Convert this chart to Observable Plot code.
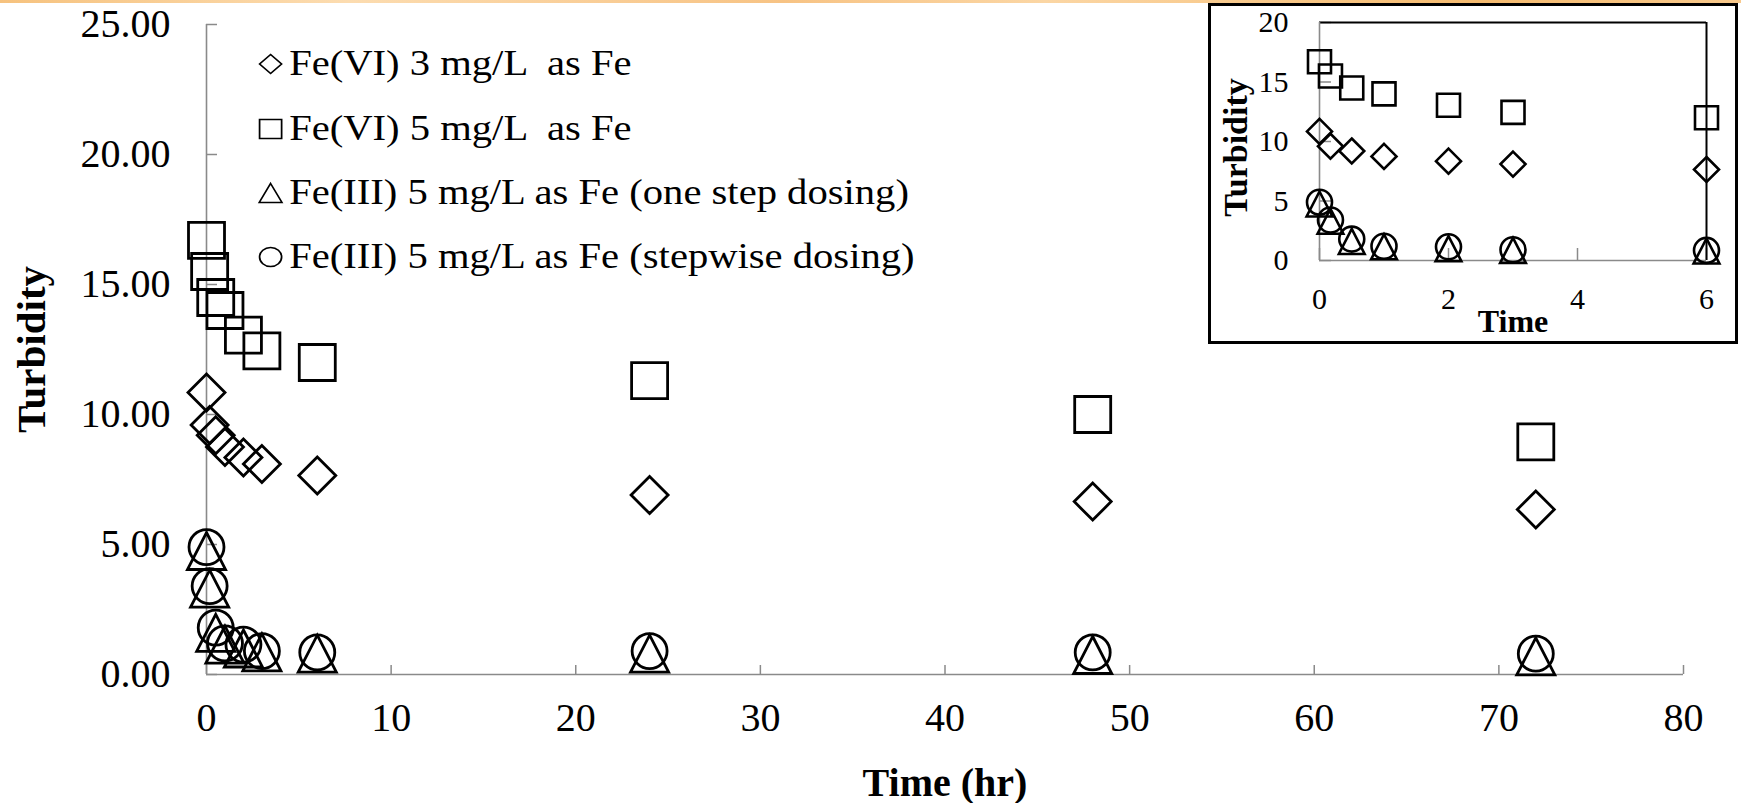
<!DOCTYPE html>
<html><head><meta charset="utf-8">
<script src="https://cdn.jsdelivr.net/npm/d3@7"></script>
<script src="https://cdn.jsdelivr.net/npm/@observablehq/plot@0.6"></script>
<style>
body{margin:0;background:#fff;}
#wrap{position:relative;width:1741px;height:803px;overflow:hidden;font-family:"Liberation Serif","Times New Roman",serif;background:#fff;}
#main{position:absolute;left:0;top:0;}
#strip{position:absolute;left:0;top:0;width:1741px;height:3px;z-index:5;
 background:linear-gradient(90deg,#f6c27e,#fcdcb0 20%,#f7c384 45%,#fbd6a4 60%,#f5bb70 85%,#f8c98c);}
#inset{position:absolute;left:1208px;top:3px;width:530px;height:341px;border:3px solid #000;box-sizing:border-box;background:#fff;}
#legend{position:absolute;left:259px;top:32px;transform:scaleX(1.16);transform-origin:0 0;color:#000;font-family:"Liberation Serif","Times New Roman",serif;}
.row{display:flex;align-items:center;height:64.4px;font-size:35px;white-space:pre;}
.row svg{margin-right:6px;overflow:visible;}
</style></head>
<body><div id="wrap"><div id="main"></div><div id="legend"></div><div id="inset"></div><div id="strip"></div></div>
<script>
// ---- data ----
const time = [0, 0.17, 0.5, 1, 2, 3, 6, 24, 48, 72];
const fe6_3mg = [10.85, 9.6, 9.2, 8.75, 8.35, 8.1, 7.65, 6.9, 6.65, 6.35];
const fe6_5mg = [16.7, 15.5, 14.5, 14.0, 13.05, 12.45, 12.0, 11.3, 10.0, 8.95];
const fe3_oneStep = [4.75, 3.3, 1.6, 1.15, 1.0, 0.85, 0.8, 0.8, 0.75, 0.7];
const fe3_stepwise = [4.9, 3.4, 1.8, 1.2, 1.15, 0.9, 0.85, 0.9, 0.85, 0.8];
const seriesNames = ["Fe(VI) 3 mg/L  as Fe", "Fe(VI) 5 mg/L  as Fe",
  "Fe(III) 5 mg/L as Fe (one step dosing)", "Fe(III) 5 mg/L as Fe (stepwise dosing)"];
const seriesValues = [fe6_3mg, fe6_5mg, fe3_oneStep, fe3_stepwise];
const seriesShapes = ["diamond", "square", "triangle", "circle"];
const mainXTicks = [0, 10, 20, 30, 40, 50, 60, 70, 80];
const mainYTicks = [0, 5, 10, 15, 20, 25];
const insetXTicks = [0, 2, 4, 6];
const insetYTicks = [0, 5, 10, 15, 20];

// ---- marker shapes (Excel-like) ----
const R = s => Math.sqrt(s / Math.PI);
const shapes = {
  diamond: {draw(c, s) {const r = R(s); c.moveTo(0, -r); c.lineTo(r, 0); c.lineTo(0, r); c.lineTo(-r, 0); c.closePath();}},
  square: {draw(c, s) {const r = R(s); c.moveTo(-r, -r); c.lineTo(r, -r); c.lineTo(r, r); c.lineTo(-r, r); c.closePath();}},
  triangle: {draw(c, s) {const r = R(s); c.moveTo(0, -r); c.lineTo(r * 1.03, r); c.lineTo(-r * 1.03, r); c.closePath();}},
  circle: {draw(c, s) {const r = R(s); c.moveTo(r, 0); c.arc(0, 0, r, 0, 2 * Math.PI);}}
};

const rows = [];
seriesNames.forEach((name, k) => time.forEach((t, i) => rows.push({series: name, shape: seriesShapes[k], t, v: seriesValues[k][i]})));

const font = '"Liberation Serif","Times New Roman",serif';
const grey = "#8a8a8a";

// ---- main chart ----
const W = 1741, H = 803, mL = 206, mR = 58, mT = 24, mB = 129;
const pW = W - mL - mR, pH = H - mT - mB;
const mainR = {diamond: 18.5, square: 18, triangle: 18.5, circle: 17.5};
const main = Plot.plot({
  width: W, height: H, marginLeft: mL, marginRight: mR, marginTop: mT, marginBottom: mB,
  style: {fontFamily: font, background: "transparent", overflow: "visible", color: "#000"},
  x: {domain: [0, 80]}, y: {domain: [0, 25]},
  marks: [
    Plot.tickY(mainYTicks, {y: d => d, stroke: grey, strokeWidth: 1.5, insetRight: pW - 11}),
    Plot.tickX(mainXTicks, {x: d => d, stroke: grey, strokeWidth: 1.5, insetTop: pH - 9}),
    Plot.ruleX([0], {stroke: grey, strokeWidth: 1.6}),
    Plot.ruleY([0], {stroke: grey, strokeWidth: 1.6}),
    Plot.axisY(mainYTicks, {tickSize: 0, tickPadding: 36, tickFormat: d3.format(".2f"), fontSize: 40, label: null, fill: "#000"}),
    Plot.axisX(mainXTicks, {tickSize: 0, tickPadding: 28, fontSize: 40, label: null, fill: "#000"}),
    Plot.text(["Turbidity"], {frameAnchor: "left", textAnchor: "middle", dx: -175, rotate: -90, fontSize: 41, fontWeight: "bold", fill: "#000"}),
    Plot.text(["Time (hr)"], {frameAnchor: "bottom", textAnchor: "middle", dy: 121, fontSize: 40, fontWeight: "bold", fill: "#000"}),
    ...seriesShapes.map(sh => Plot.dot(rows.filter(d => d.shape === sh), {
      x: "t", y: "v", symbol: shapes[sh], r: mainR[sh], stroke: "#000", strokeWidth: 2.8, fill: "none"}))
  ]
});
document.getElementById("main").append(main);

// ---- legend ----
const legend = document.getElementById("legend");
seriesNames.forEach((name, k) => {
  const row = document.createElement("div");
  row.className = "row";
  const svg = d3.create("svg").attr("width", 20).attr("height", 22).attr("viewBox", "-10 -11 20 22");
  svg.append("path").attr("d", d3.symbol(shapes[seriesShapes[k]], Math.PI * 9.5 * 9.5)())
    .attr("fill", "none").attr("stroke", "#000").attr("stroke-width", 1.5);
  row.append(svg.node());
  const span = document.createElement("span");
  span.textContent = name;
  row.append(span);
  legend.append(row);
});

// ---- inset ----
const iW = 524, iH = 335, iL = 108, iR = 29, iT = 16, iB = 81;
const ipW = iW - iL - iR, ipH = iH - iT - iB;
const insetR = {diamond: 12.5, square: 11.5, triangle: 12.5, circle: 12.5};
const insetRows = rows.filter(d => d.t <= 6);
const inset = Plot.plot({
  width: iW, height: iH, marginLeft: iL, marginRight: iR, marginTop: iT, marginBottom: iB,
  style: {fontFamily: font, background: "transparent", overflow: "visible", color: "#000"},
  x: {domain: [0, 6]}, y: {domain: [0, 20]},
  marks: [
    Plot.tickY(insetYTicks, {y: d => d, stroke: grey, strokeWidth: 1.5, insetRight: ipW - 12}),
    Plot.tickX(insetXTicks, {x: d => d, stroke: grey, strokeWidth: 1.5, insetTop: ipH - 12}),
    Plot.ruleY([20], {stroke: "#000", strokeWidth: 2}),
    Plot.ruleX([6], {stroke: "#000", strokeWidth: 2}),
    Plot.ruleX([0], {stroke: grey, strokeWidth: 1.6}),
    Plot.ruleY([0], {stroke: grey, strokeWidth: 1.6}),
    Plot.axisY(insetYTicks, {tickSize: 0, tickPadding: 31, fontSize: 30, label: null, fill: "#000"}),
    Plot.axisX(insetXTicks, {tickSize: 0, tickPadding: 27, fontSize: 30, label: null, fill: "#000"}),
    Plot.text(["Turbidity"], {frameAnchor: "left", textAnchor: "middle", dy: 6, dx: -83, rotate: -90, fontSize: 34, fontWeight: "bold", fill: "#000"}),
    Plot.text(["Time"], {frameAnchor: "bottom", textAnchor: "middle", dy: 71, fontSize: 32, fontWeight: "bold", fill: "#000"}),
    ...seriesShapes.map(sh => Plot.dot(insetRows.filter(d => d.shape === sh), {
      x: "t", y: "v", symbol: shapes[sh], r: insetR[sh], stroke: "#000", strokeWidth: 2.6, fill: "none"}))
  ]
});
document.getElementById("inset").append(inset);
</script></body></html>
